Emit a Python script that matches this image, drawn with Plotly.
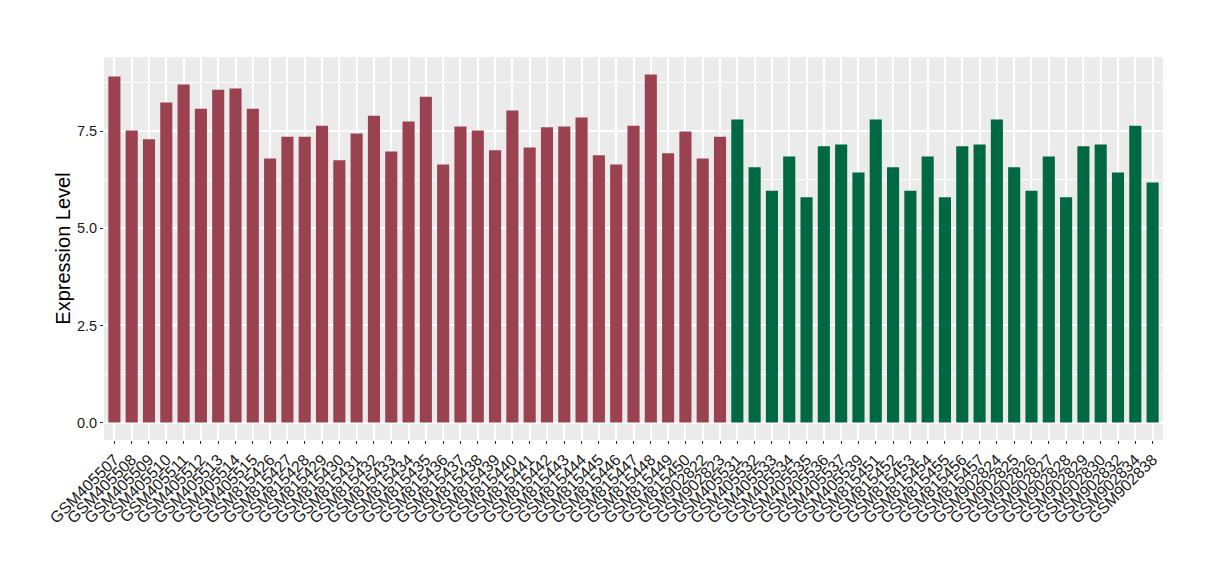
import plotly.graph_objects as go

red_samples = ["GSM405507", "GSM405508", "GSM405509", "GSM405510", "GSM405511", "GSM405512",
               "GSM405513", "GSM405514", "GSM405515", "GSM815426", "GSM815427", "GSM815428",
               "GSM815429", "GSM815430", "GSM815431", "GSM815432", "GSM815433", "GSM815434",
               "GSM815435", "GSM815436", "GSM815437", "GSM815438", "GSM815439", "GSM815440",
               "GSM815441", "GSM815442", "GSM815443", "GSM815444", "GSM815445", "GSM815446",
               "GSM815447", "GSM815448", "GSM815449", "GSM815450", "GSM902822", "GSM902823"]
red_values = [8.91, 7.52, 7.29, 8.24, 8.70, 8.08, 8.57, 8.60, 8.08, 6.80, 7.36, 7.36,
              7.64, 6.75, 7.44, 7.90, 6.98, 7.75, 8.39, 6.64, 7.62, 7.52, 7.01, 8.03,
              7.08, 7.60, 7.62, 7.85, 6.88, 6.64, 7.64, 8.96, 6.93, 7.49, 6.80, 7.36]

green_samples = ["GSM405531", "GSM405532", "GSM405533", "GSM405534", "GSM405535", "GSM405536",
                 "GSM405537", "GSM405539", "GSM815451", "GSM815452", "GSM815453", "GSM815454",
                 "GSM815455", "GSM815456", "GSM815457", "GSM902824", "GSM902825", "GSM902826",
                 "GSM902827", "GSM902828", "GSM902829", "GSM902830", "GSM902832", "GSM902834",
                 "GSM902838"]
green_values = [7.80, 6.57, 5.97, 6.85, 5.80, 7.11, 7.16, 6.44, 7.80, 6.57, 5.97, 6.85,
                5.80, 7.11, 7.16, 7.80, 6.57, 5.97, 6.85, 5.80, 7.11, 7.16, 6.44, 7.64,
                6.18]

y_ticks = [0, 2.5, 5, 7.5]
y_tick_labels = ["0.0", "2.5", "5.0", "7.5"]

RED = "#9B4250"
GREEN = "#016844"

fig = go.Figure()
fig.add_trace(go.Bar(x=red_samples, y=red_values, marker_color=RED, marker_line_width=0,
                     width=0.7, showlegend=False))
fig.add_trace(go.Bar(x=green_samples, y=green_values, marker_color=GREEN, marker_line_width=0,
                     width=0.7, showlegend=False))

all_samples = red_samples + green_samples
n = len(all_samples)

fig.update_layout(
    width=1212, height=572,
    margin=dict(l=96, r=57, t=49, b=140, autoexpand=False),
    paper_bgcolor="white",
    plot_bgcolor="#EBEBEB",
    font=dict(family="Liberation Sans, Arial, sans-serif", color="#1a1a1a"),
    bargap=0.3,
    xaxis=dict(
        categoryorder="array", categoryarray=all_samples,
        tickmode="array", tickvals=all_samples, ticktext=all_samples,
        range=[-0.6, n - 1 + 0.6],
        tickangle=-45,
        tickfont=dict(size=16, color="#1a1a1a"),
        showgrid=True, gridcolor="white", gridwidth=1.8,
        ticks="outside", ticklen=3, tickcolor="#333333", tickwidth=1,
        zeroline=False, showline=False, automargin=False,
        fixedrange=True,
    ),
    yaxis=dict(
        range=[-0.448, 9.41],
        tickvals=y_ticks, ticktext=y_tick_labels,
        tickfont=dict(size=14.5, color="#1a1a1a"),
        title=dict(text="Expression Level", font=dict(size=20, color="#000000"), standoff=0),
        showgrid=True, gridcolor="white", gridwidth=1.8,
        minor=dict(showgrid=True, gridcolor="white", gridwidth=0.9, dtick=1.25, tick0=0),
        ticks="outside", ticklen=3, tickcolor="#333333", tickwidth=1,
        zeroline=False, showline=False, automargin=False,
    ),
)

fig.write_html("out.html")
